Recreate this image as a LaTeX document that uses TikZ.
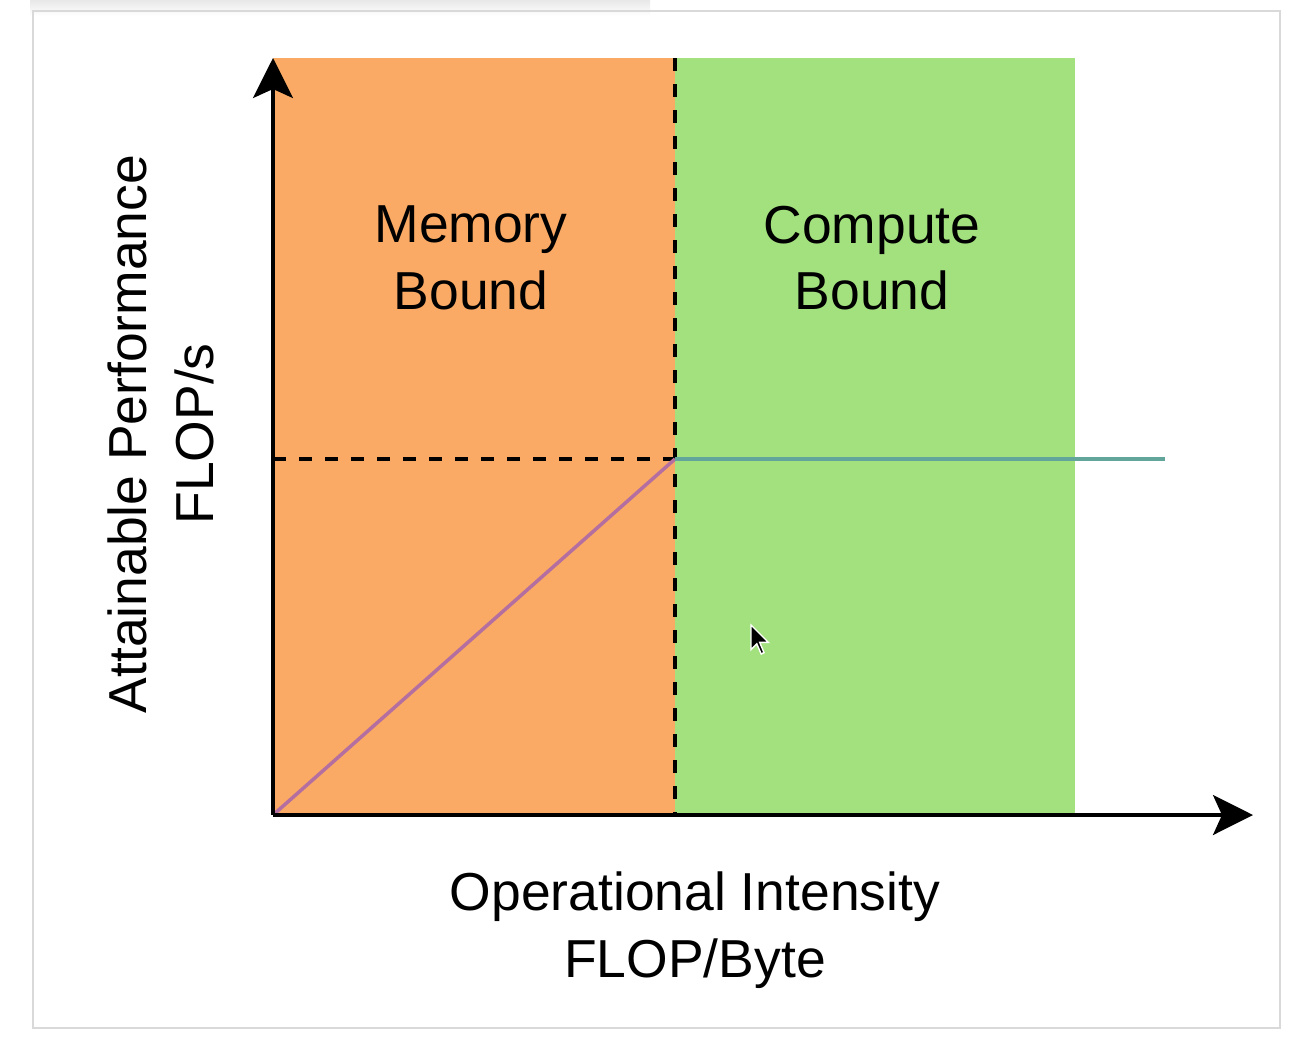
\documentclass[tikz,border=0pt]{standalone}
\usepackage{fontspec}
\setmainfont{Liberation Sans}
\usetikzlibrary{arrows.meta}
\definecolor{membound}{HTML}{FAAA64}
\definecolor{compbound}{HTML}{A3E17F}
\definecolor{bwline}{HTML}{B46FA0}
\definecolor{peakline}{HTML}{62A69B}

\begin{document}
\begin{tikzpicture}[x=0.01cm,y=-0.01cm,
    axis/.style={line width=0.9pt,-{Stealth[length=0.4cm,width=0.4cm,inset=0.09cm]}},
    guide/.style={line width=1.1pt,dash pattern=on 0.13cm off 0.13cm},
    roof/.style={line width=1pt},
    lbl/.style={align=center,font=\fontsize{15.2}{19}\selectfont,inner sep=0pt}]
    \useasboundingbox (0,0) rectangle (1309,1054);
    \fill[white] (0,0) rectangle (1309,1054);
    \shade[top color=gray!18,bottom color=white] (30,0) rectangle (650,16);
    \draw[gray!30,line width=0.6pt] (33,11) rectangle (1280,1028);
    \coordinate (orig) at (273,815);
    \coordinate (ytop) at (273,58);
    \coordinate (xend) at (1253,815);
    \coordinate (ridge) at (675,459);
    \coordinate (ridgetop) at (675,58);
    \coordinate (ridgebot) at (675,815);
    \coordinate (yridge) at (273,459);
    \coordinate (peakend) at (1165,459);
    \fill[membound] (orig) rectangle (ridgetop);
    \fill[compbound] (ridgebot) rectangle (1075,58);
    \draw[guide] (ridgetop) -- (ridgebot);
    \draw[guide] (yridge) -- (ridge);
    \draw[roof,bwline] (orig) -- (ridge);
    \draw[roof,peakline] (ridge) -- (peakend);
    \draw[axis] (orig) -- (ytop);
    \draw[axis] (orig) -- (xend);
    \node[lbl] (memlbl) at (471,258) {Memory\\Bound};
    \node[lbl] (complbl) at (872,258) {Compute\\Bound};
    \node[lbl,rotate=90] (ylbl) at (161,434) {Attainable Performance\\FLOP/s};
    \node[lbl] (xlbl) at (695,930) {Operational Intensity\\FLOP/Byte};
    \fill[black,draw=white,line width=0.4pt,shift={(751,625)}] (0,0) -- (0,24.6) -- (5.8,18.9) -- (10.2,29) -- (13,27.6) -- (8.7,17.4) -- (17.4,17.4) -- cycle;
  \end{tikzpicture}
\end{document}
